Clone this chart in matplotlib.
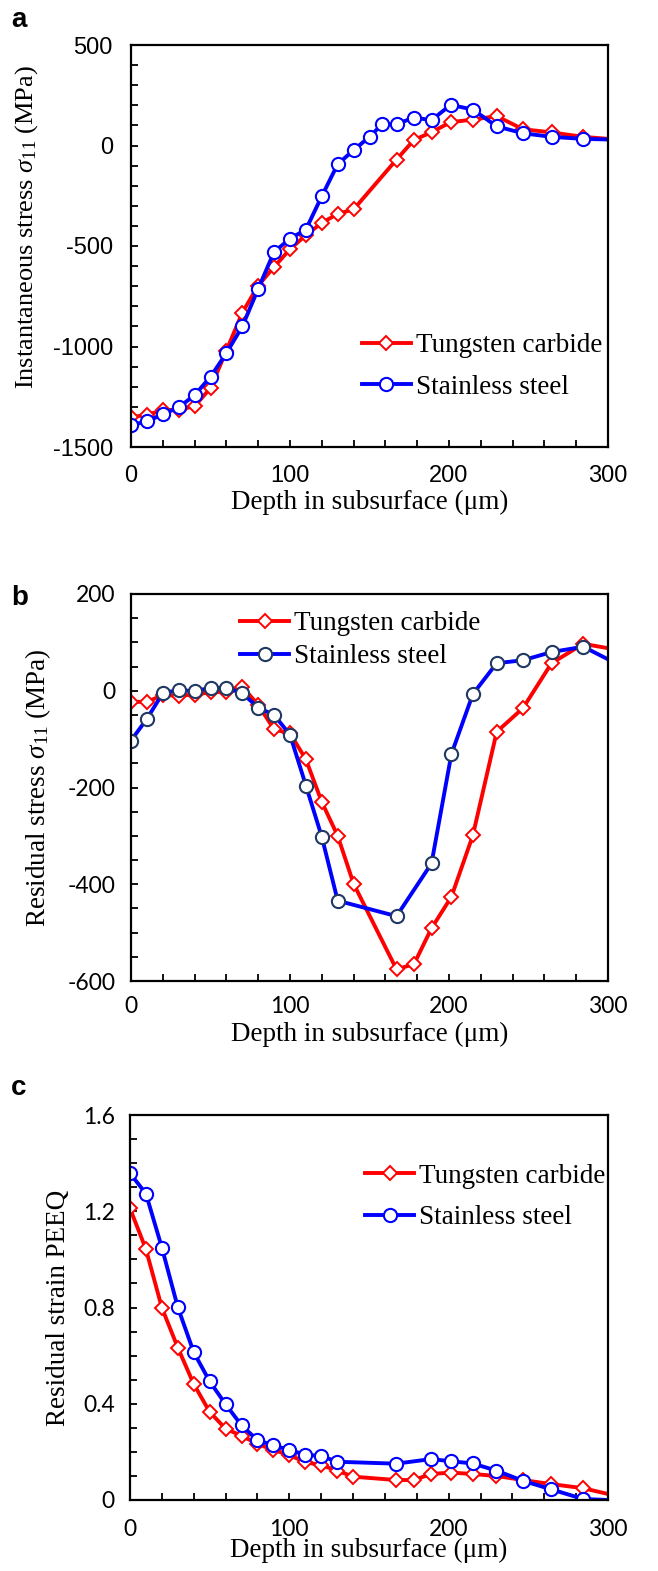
import matplotlib
matplotlib.use('Agg')
import matplotlib.pyplot as plt
from matplotlib.ticker import MultipleLocator

plt.rcParams['mathtext.fontset'] = 'custom'
plt.rcParams['mathtext.rm'] = 'Liberation Serif'
plt.rcParams['mathtext.it'] = 'Liberation Serif:italic'
plt.rcParams['axes.unicode_minus'] = False

# ---------------- data ----------------
labels = ['Tungsten carbide', 'Stainless steel']

# panel a: instantaneous stress (MPa); last value = line value read at the right edge (x=300)
depth_a_wc = [0, 10, 20, 30, 40, 50, 60, 70, 80, 90, 100, 110, 120, 130, 140,
              167, 178, 189, 201, 215, 230, 246.5, 264.5, 284.5, 300]
stress_a_wc = [-1352, -1340, -1317, -1315, -1297, -1207, -1020, -832, -697, -604, -516, -446, -385, -340, -318,
               -70, 28, 66, 116, 129, 146, 81, 65, 43, 33]
depth_a_ss = [0, 10, 20, 30, 40, 50, 60, 70, 80, 90, 100, 110, 120, 130, 140, 150,
              158, 167, 178, 189, 201, 215, 230, 246.5, 264.5, 284.5, 300]
stress_a_ss = [-1391, -1373, -1337, -1303, -1242, -1151, -1033, -900, -713, -529, -464, -418, -252, -93, -23, 43,
               106, 106, 139, 126, 202, 179, 95, 61, 43, 33, 30]

# panel b: residual stress (MPa)
depth_b_wc = [0, 10, 20, 30, 40, 50, 60, 70, 80, 90, 100, 110, 120, 130, 140,
              167, 178, 189, 201.5, 215, 230, 246.5, 264.5, 284.5, 300]
stress_b_wc = [-23, -23, -9, -10, -8, -3, -2, 8, -29, -80, -88, -142, -230, -300, -399,
               -576, -565, -491, -426, -299, -85, -36, 57, 97, 88]
depth_b_ss = [0, 10, 20, 30, 40, 50, 60, 70, 80, 90, 100, 110, 120, 130,
              167, 189, 201.5, 215, 230, 246.5, 264.5, 284.5, 300]
stress_b_ss = [-103, -58, -5, 1.5, -1, 6, 6, -5, -35, -50, -91, -196, -302, -434,
               -466, -357, -131, -7, 57, 63, 80, 91, 65]

# panel c: residual strain PEEQ
depth_c_wc = [0, 10, 20, 30, 40, 50, 60, 70, 80, 90, 100, 110, 120, 130, 140,
              167, 178, 189, 201.5, 215, 230, 246.5, 264.5, 284.5, 300]
peeq_c_wc = [1.212, 1.042, 0.799, 0.633, 0.482, 0.366, 0.296, 0.267, 0.233, 0.208, 0.187, 0.157, 0.145, 0.122, 0.097,
             0.083, 0.083, 0.108, 0.114, 0.108, 0.100, 0.083, 0.066, 0.049, 0.025]
depth_c_ss = [0, 10, 20, 30, 40, 50, 60, 70, 80, 90, 100, 110, 120, 130,
              167, 189, 201.5, 215, 230, 246.5, 264.5, 284.5, 300]
peeq_c_ss = [1.358, 1.273, 1.049, 0.801, 0.614, 0.493, 0.398, 0.310, 0.249, 0.227, 0.208, 0.188, 0.183, 0.159,
             0.151, 0.170, 0.161, 0.152, 0.122, 0.080, 0.044, 0.004, 0.0]

c_ticks = [0, 0.4, 0.8, 1.2, 1.6]
c_ticklabels = ['0', '0.4', '0.8', '1.2', '1.6']

# ---------------- figure ----------------
W, H = 658, 1571
fig = plt.figure(figsize=(W / 100, H / 100), dpi=100)

def px_axes(l, t, r, b):
    return fig.add_axes([l / W, 1 - b / H, (r - l) / W, (b - t) / H])

axa = px_axes(131, 45, 608, 447)
axb = px_axes(131, 594, 608, 981)
axc = px_axes(130, 1115, 608, 1500)

serif = 'Liberation Serif'
RED = '#ff0000'
BLUE = '#0000ff'
NAVY = '#1f3864'

def draw(ax, xw, yw, xs, ys, circ_edge):
    ax.plot(xw, yw, color=RED, lw=2.8, marker='D', markersize=6.8, markerfacecolor='white',
            markeredgecolor=RED, markeredgewidth=1.4, markevery=slice(0, len(xw) - 1),
            label=labels[0])
    ax.plot(xs, ys, color=BLUE, lw=2.8, marker='o', markersize=9.5, markerfacecolor='white',
            markeredgecolor=circ_edge, markeredgewidth=1.5, markevery=slice(0, len(xs) - 1),
            label=labels[1])

draw(axa, depth_a_wc, stress_a_wc, depth_a_ss, stress_a_ss, BLUE)
draw(axb, depth_b_wc, stress_b_wc, depth_b_ss, stress_b_ss, NAVY)
draw(axc, depth_c_wc, peeq_c_wc, depth_c_ss, peeq_c_ss, BLUE)

def style(ax, ylim, ymaj, ymin, tickfont, tsize, ypad, xpad):
    ax.set_xlim(0, 300)
    ax.set_ylim(*ylim)
    ax.xaxis.set_major_locator(MultipleLocator(100))
    ax.xaxis.set_minor_locator(MultipleLocator(20))
    ax.yaxis.set_major_locator(MultipleLocator(ymaj))
    ax.yaxis.set_minor_locator(MultipleLocator(ymin))
    ax.tick_params(which='both', direction='in', length=5, width=1.3, top=False, right=False,
                   labelsize=tsize, labelfontfamily=tickfont)
    ax.tick_params(axis='y', which='major', pad=ypad)
    ax.tick_params(axis='x', which='major', pad=xpad)
    for s in ax.spines.values():
        s.set_linewidth(1.6)
    ax.set_xlabel('Depth in subsurface (\u03bcm)', fontfamily=serif, fontsize=19.5)

style(axa, (-1500, 500), 500, 100, 'Liberation Sans', 17, 13, 13)
style(axb, (-600, 200), 200, 50, 'Lato', 16.5, 11, 11)
style(axc, (0, 1.6), 0.4, 0.1, 'Lato', 16.5, 11, 14)

axc.set_yticks(c_ticks)
axc.set_yticklabels(c_ticklabels)

axa.set_ylabel(r'Instantaneous stress $\sigma_{\mathit{11}}$ (MPa)', fontfamily=serif, fontsize=19)
axb.set_ylabel(r'Residual stress $\sigma_{\mathit{11}}$ (MPa)', fontfamily=serif, fontsize=19.5)
axc.set_ylabel('Residual strain PEEQ', fontfamily=serif, fontsize=19.5)

axa.yaxis.set_label_coords(-0.191, 0.547)
axb.yaxis.set_label_coords(-0.164, 0.5)
axc.yaxis.set_label_coords(-0.124, 0.5)
axa.xaxis.set_label_coords(0.5, -0.107)
axb.xaxis.set_label_coords(0.5, -0.106)
axc.xaxis.set_label_coords(0.5, -0.098)

leg_kw = dict(frameon=False, prop={'family': serif, 'size': 19.5}, handlelength=1.8,
              handletextpad=0.2, borderpad=0, borderaxespad=0, loc='center left')
axa.legend(bbox_to_anchor=(0.484, 0.200), labelspacing=0.6, **leg_kw)
axb.legend(bbox_to_anchor=(0.229, 0.881), labelspacing=0.3, **leg_kw)
axc.legend(bbox_to_anchor=(0.492, 0.787), labelspacing=0.6, **leg_kw)

for letter, y in (('a', 20), ('b', 598), ('c', 1088)):
    fig.text(11 / W, 1 - y / H, letter, fontfamily='Liberation Sans', fontweight='bold',
             fontsize=20, ha='left', va='center')

fig.savefig('out.png', dpi=100)
